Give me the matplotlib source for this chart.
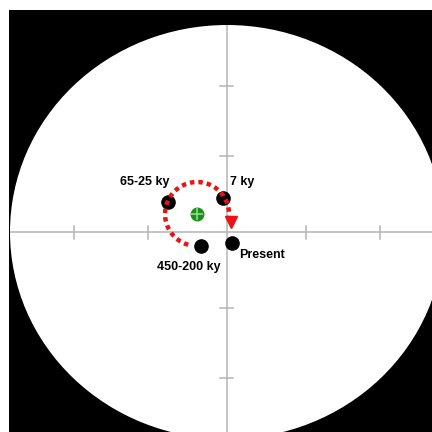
import numpy as np
import matplotlib
matplotlib.use("Agg")
import matplotlib.pyplot as plt
from matplotlib.patches import Ellipse

# Pole positions (equal-area projection, unit net radius)
labels = ["65-25 ky", "7 ky", "450-200 ky", "Present"]
pole_x = [-0.272, -0.018, -0.120, 0.023]
pole_y = [0.145, 0.164, -0.068, -0.053]

# Mean pole
mean_x = [-0.138]
mean_y = [0.087]

# Label anchor positions
label_x = [-0.378, 0.069, -0.175, 0.161]
label_y = [0.242, 0.242, -0.169, -0.111]

# Wander path: arc around the mean pole (angles in degrees, clockwise)
path_start, path_end = 254, -6
path_r = 32  # pixels

# Net ticks at 30 and 60 degrees from centre (equal-area radius)
tick_deg = [30, 60]

fig = plt.figure(figsize=(4.32, 4.32), dpi=100)
ax = fig.add_axes([9 / 432, 0, 423 / 432, 422 / 432])
ax.set_facecolor("black")
ax.set_xlim(-1.0046, 0.9447)
ax.set_ylim(-0.966, 1.0725)
ax.set_xticks([])
ax.set_yticks([])
for s in ax.spines.values():
    s.set_visible(False)

# Primitive circle
net = Ellipse((0, 0), 2, 2, facecolor="white", edgecolor="none", zorder=1)
ax.add_patch(net)

# Cross-hair axes with ticks
grey = "#b4b4b4"
ax.plot([-1, 1], [0, 0], color=grey, lw=1.1, zorder=2, clip_path=net)
ax.plot([0, 0], [-1, 1], color=grey, lw=1.1, zorder=2, clip_path=net)
tick_r = np.sqrt(2) * np.sin(np.radians(tick_deg) / 2)
hx = 6.5 / 217
hy = 6.5 / 207
for r in tick_r:
    for sgn in (-1, 1):
        ax.plot([sgn * r, sgn * r], [-hy, hy], color=grey, lw=1.1, zorder=2)
        ax.plot([-hx, hx], [sgn * r, sgn * r], color=grey, lw=1.1, zorder=2)

# Poles
ax.plot(pole_x, pole_y, "o", color="black", ms=9.5, zorder=3)
ax.plot(mean_x, mean_y, "o", color="#1a8f1a", ms=9, zorder=3)
ax.plot(mean_x, mean_y, "+", color="#8fd88f", ms=8, mew=1.2, zorder=4)

# Red dotted wander path with arrow head
t = np.radians(np.linspace(path_start, path_end, 200))
px = mean_x[0] + path_r / 217 * np.cos(t)
py = mean_y[0] + path_r / 207 * np.sin(t)
ax.plot(px, py, color="#ee1111", lw=3.2, ls=(0, (1, 0.9)), zorder=5)
ax.plot(px[-1] + 2 / 217, py[-1] - 5 / 207, marker="v", color="#ee1111",
        ms=9, zorder=5)

for x, y, s in zip(label_x, label_y, labels):
    ax.text(x, y, s, ha="center", va="center", fontsize=9, fontweight="bold",
            family="Liberation Sans", zorder=6)

fig.savefig("out.png", dpi=100, facecolor="white")
